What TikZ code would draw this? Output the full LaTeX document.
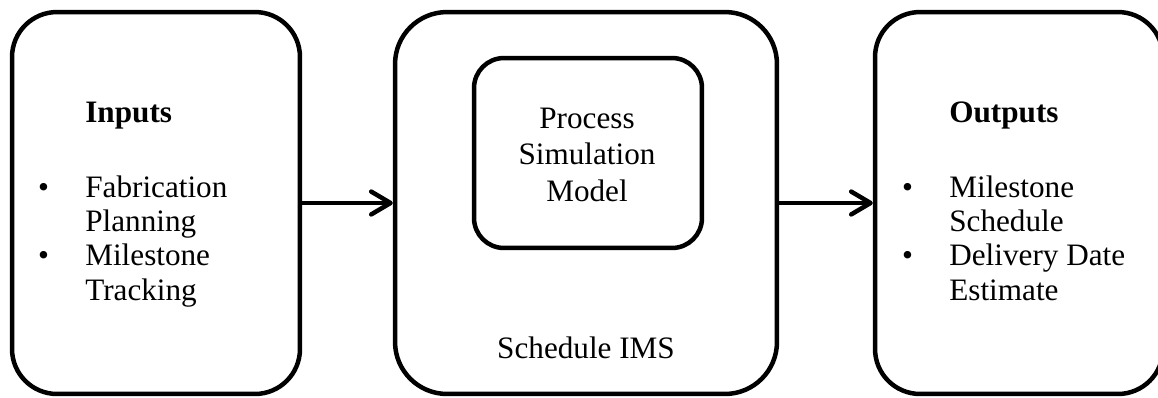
\documentclass[tikz,border=0pt]{standalone}
\usepackage{fontspec}
\setmainfont{Liberation Serif}
\usetikzlibrary{arrows.meta}
\begin{document}
\begin{tikzpicture}[x=0.02cm, y=-0.02cm,
  roundbox/.style={draw=black, line width=0.09cm, rounded corners=#1, inner sep=0pt},
  txt/.style={inner sep=0pt, font=\fontsize{17.75}{19.6}\selectfont},
  flow/.style={line width=0.09cm, -{Straight Barb[length=11pt,width=13pt,round]}}]
% canvas
\fill[white] (0,0) rectangle (1158,397);
\useasboundingbox (0,0) rectangle (1158,397);

% the three main blocks
\node[roundbox=0.9cm, minimum width=5.76cm, minimum height=7.64cm] (inbox) at (156,203) {};
\node[roundbox=1.04cm, minimum width=7.64cm, minimum height=7.64cm] (ims) at (586,203) {};
\node[roundbox=0.9cm, minimum width=5.76cm, minimum height=7.64cm] (outbox) at (1019,203) {};

% inner model block
\node[roundbox=0.6cm, minimum width=4.56cm, minimum height=3.8cm] (model) at (588,153) {};

% inputs
\node[txt, anchor=base west] (intitle) at (85,122) {\textbf{Inputs}};
\node[txt, anchor=base west] (inlist) at (85,197) {\begin{tabular}[t]{@{}l@{}}
\llap{\textbullet\hspace{20.7pt}}Fabrication\\
Planning\\
\llap{\textbullet\hspace{20.7pt}}Milestone\\
Tracking
\end{tabular}};

% model and system labels
\node[txt, anchor=base] (modeltext) at (587,128) {\fontsize{17.75}{21}\selectfont\begin{tabular}[t]{@{}c@{}}
Process\\ Simulation\\ Model
\end{tabular}};
\node[txt, anchor=base] (imstext) at (586,358) {Schedule IMS};

% outputs
\node[txt, anchor=base west] (outtitle) at (949,122) {\textbf{Outputs}};
\node[txt, anchor=base west] (outlist) at (949,197) {\begin{tabular}[t]{@{}l@{}}
\llap{\textbullet\hspace{20.7pt}}Milestone\\
Schedule\\
\llap{\textbullet\hspace{20.7pt}}Delivery Date\\
Estimate
\end{tabular}};

% connectors
\draw[flow] (inbox.east) -- (ims.west);
\draw[flow] (ims.east) -- (outbox.west);
\end{tikzpicture}
\end{document}
